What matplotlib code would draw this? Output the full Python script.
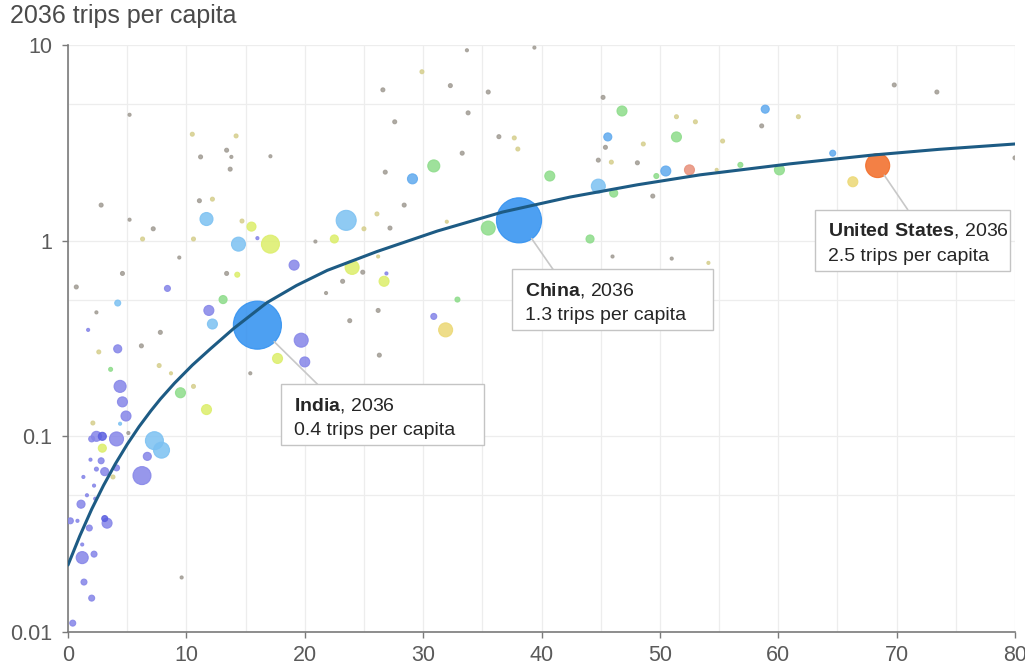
import numpy as np
import matplotlib
matplotlib.use("Agg")
import matplotlib.pyplot as plt
from matplotlib.ticker import FixedLocator, NullFormatter
from matplotlib.patches import Rectangle
from matplotlib.transforms import ScaledTranslation

plt.rcParams['font.family'] = ['Liberation Sans', 'DejaVu Sans']
plt.rcParams['mathtext.fontset'] = 'custom'
plt.rcParams['mathtext.rm'] = 'Liberation Sans'
plt.rcParams['mathtext.bf'] = 'Liberation Sans:bold'

# ---------------- data ----------------
# x measure (0-80), trips per capita in 2036 on y (log), population (millions) for bubble area
x_vals = [5.2, 2.8, 10.5, 14.2, 11.2, 13.4, 13.8, 13.7, 17.1, 11.1, 12.2, 11.7, 5.2, 7.2, 6.3, 10.6,
          14.7, 15.5, 14.4, 17.1, 16.0, 20.9, 22.5, 23.5, 26.1, 25.0,
          29.9, 26.6, 32.3, 35.5, 33.7, 39.4, 45.2, 33.8, 27.6, 46.8, 51.4, 53.0, 36.4, 37.7, 38.0, 45.6,
          45.4, 48.6, 51.4, 33.3, 30.9, 26.8, 29.1, 28.4, 27.2, 32.0, 40.7, 44.8, 45.9, 48.1, 44.8, 46.1,
          49.7, 50.5, 52.5, 49.4, 35.5, 38.1, 44.1, 46.0, 51.0, 54.1,
          69.8, 73.4, 58.9, 61.7, 58.6, 55.3, 54.8, 56.8, 60.1, 64.6, 68.4, 66.3, 80.0,
          19.1, 24.0, 24.9, 26.2, 26.9, 26.7, 23.2, 21.8, 26.2, 23.8, 32.9, 30.9, 31.9, 26.3, 19.7, 17.7,
          20.0, 15.4, 16.0,
          9.4, 4.6, 0.7, 13.4, 14.3, 8.4, 2.4, 4.2, 1.7, 7.8, 6.2, 4.2, 2.6, 13.1, 11.9, 12.2, 7.7, 8.7,
          3.6, 4.4, 4.6, 4.9, 9.5, 10.6, 11.7, 2.1, 4.4,
          2.4, 2.9, 2.0, 4.1, 2.9, 5.1, 7.3, 7.9, 6.7, 6.25, 1.9, 2.8, 2.4, 3.1, 4.1, 3.8, 1.3, 2.2, 1.6,
          1.1, 2.3, 0.2, 0.8, 3.1, 3.3, 1.8, 1.2, 1.2, 2.2, 1.35, 2.0, 0.4, 9.6]

y_vals = [4.4, 1.52, 3.5, 3.43, 2.68, 2.9, 2.68, 2.32, 2.7, 1.6, 1.63, 1.29, 1.28, 1.15, 1.02, 1.02,
          1.26, 1.18, 0.96, 0.96, 1.03, 0.99, 1.02, 1.27, 1.37, 1.15,
          7.3, 5.9, 6.2, 5.75, 9.4, 9.7, 5.4, 4.5, 4.05, 4.6, 4.3, 4.05, 3.4, 3.35, 2.94, 3.39,
          3.0, 3.12, 3.39, 2.8, 2.41, 2.24, 2.07, 1.52, 1.16, 1.25, 2.14, 2.58, 2.52, 2.5, 1.9, 1.75,
          2.14, 2.27, 2.3, 1.69, 1.16, 1.27, 1.02, 0.83, 0.81, 0.77,
          6.25, 5.75, 4.7, 4.3, 3.86, 3.23, 2.3, 2.44, 2.3, 2.8, 2.42, 2.0, 2.65,
          0.75, 0.73, 0.69, 0.83, 0.68, 0.62, 0.62, 0.54, 0.44, 0.39, 0.50, 0.41, 0.35, 0.26, 0.31, 0.25,
          0.24, 0.21, 0.37,
          0.82, 0.68, 0.58, 0.68, 0.67, 0.57, 0.43, 0.48, 0.35, 0.34, 0.29, 0.28, 0.27, 0.50, 0.44, 0.375,
          0.23, 0.21, 0.22, 0.18, 0.15, 0.127, 0.167, 0.18, 0.137, 0.117, 0.116,
          0.10, 0.10, 0.097, 0.097, 0.087, 0.104, 0.095, 0.085, 0.079, 0.063, 0.076, 0.075, 0.068, 0.066,
          0.069, 0.062, 0.062, 0.056, 0.050, 0.045, 0.048, 0.037, 0.037, 0.038, 0.036, 0.034, 0.028,
          0.024, 0.025, 0.018, 0.0149, 0.0111, 0.019]

population = [6, 10, 10, 10, 10, 10, 6, 10, 6, 10, 10, 110, 6, 10, 10, 10,
              10, 53, 127, 210, 6, 6, 42, 260, 10, 10,
              10, 10, 10, 10, 6, 6, 10, 10, 10, 65, 10, 10, 10, 10, 10, 42,
              10, 10, 65, 10, 94, 10, 65, 10, 10, 6, 65, 10, 10, 10, 127, 42,
              16, 65, 65, 10, 127, 1320, 42, 6, 6, 6,
              10, 10, 42, 10, 10, 10, 6, 16, 65, 23, 375, 65, 10,
              65, 127, 10, 6, 6, 65, 10, 6, 10, 10, 16, 23, 127, 10, 127, 65,
              65, 6, 1500,
              6, 10, 10, 10, 16, 23, 6, 23, 6, 10, 10, 42, 10, 42, 65, 65, 10, 6,
              10, 94, 65, 65, 65, 10, 65, 10, 6,
              65, 42, 23, 127, 42, 6, 210, 166, 42, 210, 6, 23, 10, 42, 23, 10, 6, 6, 6,
              42, 6, 23, 6, 23, 65, 23, 6, 94, 23, 23, 23, 23, 6]

region = ['K', 'K', 'W', 'W', 'K', 'K', 'K', 'K', 'K', 'K', 'W', 'L', 'K', 'K', 'W', 'W',
          'W', 'Y', 'L', 'Y', 'P', 'K', 'Y', 'L', 'W', 'W',
          'W', 'K', 'K', 'K', 'K', 'K', 'K', 'K', 'K', 'G', 'W', 'W', 'K', 'W', 'W', 'B',
          'K', 'W', 'G', 'K', 'G', 'K', 'B', 'K', 'K', 'W', 'G', 'K', 'W', 'K', 'L', 'G',
          'G', 'B', 'S', 'K', 'G', 'C', 'G', 'K', 'K', 'W',
          'K', 'K', 'B', 'W', 'K', 'W', 'W', 'G', 'G', 'B', 'O', 'T', 'K',
          'P', 'Y', 'K', 'W', 'P', 'Y', 'K', 'K', 'K', 'K', 'G', 'P', 'T', 'K', 'P', 'Y',
          'P', 'K', 'C',
          'K', 'K', 'K', 'K', 'Y', 'P', 'K', 'L', 'P', 'K', 'K', 'P', 'W', 'G', 'P', 'L', 'W', 'W',
          'G', 'P', 'P', 'P', 'G', 'W', 'Y', 'W', 'L',
          'P', 'D', 'P', 'P', 'Y', 'K', 'L', 'L', 'P', 'P', 'P', 'P', 'P', 'P', 'P', 'W', 'P', 'P', 'P',
          'P', 'P', 'P', 'P', 'D', 'P', 'P', 'P', 'P', 'P', 'P', 'P', 'P', 'K']

# trend line
curve_x = [0, 1, 2, 3, 4, 5, 6, 7, 7.8, 9, 10.5, 12, 14, 16.8, 19.3, 21.9, 26.1, 31.2, 36.7, 42.4,
           48.1, 53.4, 61, 68, 73.6, 80]
curve_y = [0.022, 0.031, 0.0424, 0.0561, 0.0723, 0.091, 0.112, 0.135, 0.155, 0.187, 0.231, 0.279,
           0.356, 0.482, 0.59, 0.705, 0.88, 1.12, 1.40, 1.67, 1.93, 2.17, 2.47, 2.74, 2.93, 3.12]

callout_names = ['India', 'China', 'United States']
callout_x = [16.0, 38.1, 68.4]
callout_y = [0.37, 1.27, 2.42]
callout_values = ['0.4', '1.3', '2.5']

# ---------------- style ----------------
palette = {'P': '#8585e8', 'D': '#5a5ee0', 'B': '#5fa9ee', 'L': '#7cc1f2', 'C': '#2e8ff0',
           'G': '#8ddc8a', 'Y': '#dcee6a', 'W': '#d6cf8e', 'T': '#ecd874', 'S': '#e8907a',
           'O': '#f26a24', 'K': '#a19c94'}

fig = plt.figure(figsize=(10.25, 6.66), dpi=100)
ax = fig.add_axes([68 / 1025, 1 - 632 / 666, (1015 - 68) / 1025, (632 - 45) / 666])

ax.set_yscale('log')
ax.set_xlim(0, 80)
ax.set_ylim(0.01, 10)

# grid
ax.xaxis.set_major_locator(FixedLocator([0, 10, 20, 30, 40, 50, 60, 70, 80]))
ax.xaxis.set_minor_locator(FixedLocator([5, 15, 25, 35, 45, 55, 65, 75]))
ax.yaxis.set_major_locator(FixedLocator([0.01, 0.1, 1, 10]))
ax.yaxis.set_minor_locator(FixedLocator([0.05, 0.5, 5]))
ax.yaxis.set_minor_formatter(NullFormatter())
ax.set_yticklabels(['0.01', '0.1', '1', '10'])
ax.grid(True, which='both', color='#ededed', lw=0.9, zorder=0)
ax.set_axisbelow(True)
ax.tick_params(which='minor', length=0)
ax.tick_params(which='major', length=4.5, width=1, color='#7a7a7a', labelsize=15.5,
               labelcolor='#5a5a5a', pad=5)
ax.tick_params(axis='y', which='major', pad=7)

for s in ['top', 'right']:
    ax.spines[s].set_visible(False)
for s in ['left', 'bottom']:
    ax.spines[s].set_color('#7a7a7a')
    ax.spines[s].set_linewidth(1.2)

# bubbles, largest first
order = np.argsort(population)[::-1]
xs = np.array(x_vals)[order]
ys = np.array(y_vals)[order]
pops = np.array(population)[order]
cols = [palette[region[i]] for i in order]
ax.scatter(xs, ys, s=pops * 0.8, c=cols, alpha=0.85, edgecolors=cols, linewidths=0.8, zorder=3)

# trend line
ax.plot(curve_x, curve_y, color='#1d5b84', lw=2.2, zorder=4, solid_capstyle='round',
        solid_joinstyle='round')

# callouts: box offsets (inches from the bubble centre), leader end (points), bubble radius (points)
box_off = [(0.24, -0.59), (-0.07, -0.49), (-0.63, -0.44)]
box_w = [2.03, 2.01, 1.95]
box_h = 0.61
leader_end = [(43.2, -42.5), (24.5, -35.3), (21.6, -31.7)]
shrink = [17, 16, 8.5]
for name, cx, cy, val, bo, bw, le, sh in zip(callout_names, callout_x, callout_y, callout_values,
                                             box_off, box_w, leader_end, shrink):
    ax.annotate('', xy=(cx, cy), xytext=le, textcoords='offset points',
                arrowprops=dict(arrowstyle='-', color='#c8c8c8', lw=1.2, shrinkA=0, shrinkB=sh),
                zorder=5)
    tr = fig.dpi_scale_trans + ScaledTranslation(cx, cy, ax.transData)
    left, top = bo
    ax.add_patch(Rectangle((left, top - box_h), bw, box_h, transform=tr, fc='white',
                           ec='#c4c4c4', lw=1, zorder=6, clip_on=False))
    line1 = r'$\mathbf{' + name.replace(' ', r'\ ') + '}$, 2036'
    ax.text(left + 0.13, top - 0.26, line1, transform=tr, ha='left', va='baseline',
            fontsize=14, color='#262626', zorder=7, clip_on=False)
    ax.text(left + 0.13, top - 0.51, val + ' trips per capita', transform=tr, ha='left',
            va='baseline', fontsize=14, color='#262626', zorder=7, clip_on=False)

fig.text(10 / 1025, 1 - 16 / 666, '2036 trips per capita', fontsize=18, color='#4a4a4a',
         ha='left', va='center')

fig.savefig('out.png', dpi=100)
